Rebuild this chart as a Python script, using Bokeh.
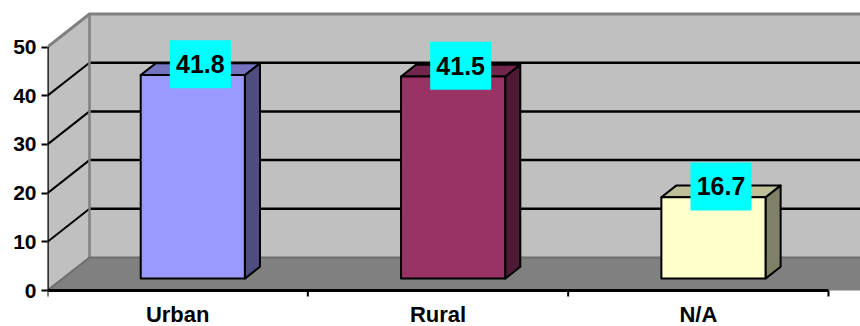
from bokeh.plotting import figure
from bokeh.models import Range1d, FixedTicker, ColumnDataSource
from bokeh.embed import file_html
from bokeh.resources import INLINE
from bokeh.core.properties import value

# ---- data ----
categories = ["Urban", "Rural", "N/A"]
values = [41.8, 41.5, 16.7]
value_labels = ["41.8", "41.5", "16.7"]
front_colors = ["#9999FF", "#993366", "#FFFFCC"]
top_colors = ["#7373BF", "#73264D", "#BFBF99"]
side_colors = ["#4D4D80", "#4D1A33", "#808066"]
y_ticks = [0, 10, 20, 30, 40, 50]
y_max = 50

# ---- geometry (data units) ----
PX_X = 260.33          # pixels per category
PX_Y = 4.87            # pixels per value unit
DX = 42 / PX_X         # depth offset in x
DY = 33 / PX_Y         # depth offset in y
D1, D2 = 0.36, 0.72    # bar depth (fraction of wall depth)
BAR_HALF = 0.2
TICK = 6 / PX_Y
LABEL_DROP = 23.5 / PX_Y
n = len(categories)

p = figure(width=860, height=326, output_backend="svg", toolbar_location=None,
           x_range=Range1d(0, 813 / PX_X), y_range=Range1d(-36 / PX_Y, 290 / PX_Y),
           x_axis_location=None,
           min_border_left=47, min_border_right=0, min_border_top=0, min_border_bottom=0)
p.outline_line_color = None
p.xgrid.visible = False
p.ygrid.visible = False
p.background_fill_color = "white"
p.border_fill_color = "white"

X_END = n + DX + 0.2

# back wall
p.patch([DX, X_END, X_END, DX], [DY, DY, y_max + DY, y_max + DY],
        fill_color="#C0C0C0", line_color=None)
# left wall
p.patch([0, DX, DX, 0], [0, DY, y_max + DY, y_max],
        fill_color="#C0C0C0", line_color=None)
# floor
p.patch([0, X_END, X_END, DX], [0, 0, DY, DY],
        fill_color="#808080", line_color=None)

# gridlines
grid_vals = [t for t in y_ticks if 0 < t < y_max]
p.segment(x0=[DX] * len(grid_vals), y0=[v + DY for v in grid_vals],
          x1=[X_END] * len(grid_vals), y1=[v + DY for v in grid_vals],
          line_color="black", line_width=2.5)
p.segment(x0=[0] * len(grid_vals), y0=grid_vals,
          x1=[DX] * len(grid_vals), y1=[v + DY for v in grid_vals],
          line_color="black", line_width=2)
# wall edges (gray)
p.line([0, DX, X_END], [y_max, y_max + DY, y_max + DY], line_color="#808080", line_width=3)
p.line([DX, DX], [DY, y_max + DY], line_color="#808080", line_width=2.5)
p.line([0, DX, X_END], [0, DY, DY], line_color="#6E6E6E", line_width=2)

# bars
fx, fy, sx, sy, tx, ty = [], [], [], [], [], []
for i, v in enumerate(values):
    c = i + 0.5
    x0, x1 = c - BAR_HALF, c + BAR_HALF
    o1x, o1y = D1 * DX, D1 * DY
    o2x, o2y = D2 * DX, D2 * DY
    fx.append([x0 + o1x, x1 + o1x, x1 + o1x, x0 + o1x])
    fy.append([o1y, o1y, v + o1y, v + o1y])
    sx.append([x1 + o1x, x1 + o2x, x1 + o2x, x1 + o1x])
    sy.append([o1y, o2y, v + o2y, v + o1y])
    tx.append([x0 + o1x, x1 + o1x, x1 + o2x, x0 + o2x])
    ty.append([v + o1y, v + o1y, v + o2y, v + o2y])
p.patches(sx, sy, fill_color=side_colors, line_color="black", line_width=2, line_join="round")
p.patches(tx, ty, fill_color=top_colors, line_color="black", line_width=2, line_join="round")
p.patches(fx, fy, fill_color=front_colors, line_color="black", line_width=2, line_join="round")

# axis lines
p.line([0, 0], [0, y_max], line_color="black", line_width=2.5)
p.line([0, n], [0, 0], line_color="black", line_width=3)

# category axis: boundary ticks + labels
bounds = list(range(n + 1))
p.segment(x0=bounds, y0=[0] * len(bounds), x1=bounds, y1=[-TICK] * len(bounds),
          line_color="black", line_width=2)
p.text(x=[i + 0.5 for i in range(n)], y=[-LABEL_DROP] * n, text=categories,
       text_align="center", text_baseline="middle",
       text_font=value("Liberation Sans"), text_font_style="bold", text_font_size="22px",
       text_color="black")

# data labels
DM = (D1 + D2) / 2
lab = ColumnDataSource(dict(
    x=[i + 0.5 + DM * DX for i in range(n)],
    y=[v + DM * DY + 1.0 for v in values],
    t=value_labels))
p.rect(x="x", y="y", width=61, height=48, width_units="screen", height_units="screen",
       fill_color="#00FFFF", line_color=None, source=lab)
p.text(x="x", y="y", text="t", source=lab, text_align="center", text_baseline="middle",
       text_font=value("Liberation Sans"), text_font_style="bold", text_font_size="25px",
       text_color="black")

# value axis
ya = p.yaxis[0]
ya.ticker = FixedTicker(ticks=y_ticks)
ya.axis_line_color = None
ya.major_tick_out = 6
ya.major_tick_in = 0
ya.major_tick_line_width = 2
ya.major_tick_line_color = "black"
ya.minor_tick_line_color = None
ya.major_label_text_font = "Liberation Sans"
ya.major_label_text_font_style = "bold"
ya.major_label_text_font_size = "21px"
ya.major_label_text_color = "black"
ya.major_label_standoff = 5

open("out.html", "w").write(file_html(p, INLINE))
